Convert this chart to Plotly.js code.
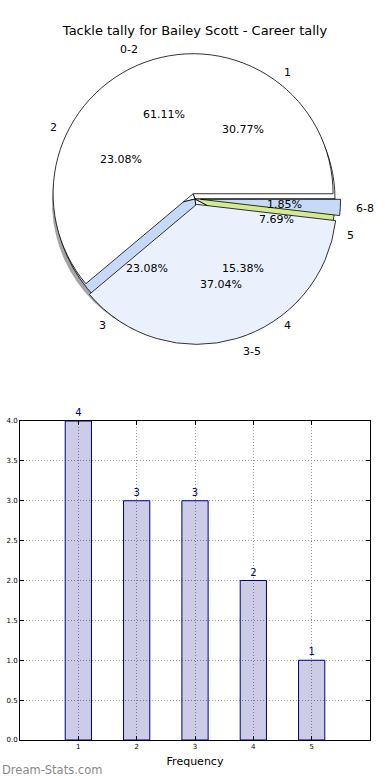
<!DOCTYPE html>
<html><head><meta charset="utf-8">
<script src="https://cdn.plot.ly/plotly-3.0.1.min.js"></script>
<style>html,body{margin:0;padding:0;background:#fff}#chart{width:390px;height:780px}</style>
</head><body><div id="chart"></div>
<script>
// ---- data ----
const chartTitle = 'Tackle tally for Bailey Scott - Career tally';
const groupLabels = ['0-2', '3-5', '6-8'];
const groupValues = [33, 20, 1];
const groupColors = ['#FFFFFF', '#EAF1FD', '#C6D9F7'];
const tallyLabels = ['1', '2', '3', '4', '5'];
const tallyValues = [4, 3, 3, 2, 1];
const tallyColors = ['#FFFFFF', '#FFFFFF', '#C6D9F7', '#EAF1FD', '#D3EA8F'];
const barX = [1, 2, 3, 4, 5];
const barY = [4, 3, 3, 2, 1];
const xTitle = 'Frequency';
const watermark = 'Dream-Stats.com';

// ---- geometry ----
const W = 390, H = 780;
const M = {l: 20, r: 20, t: 0, b: 40};
const PW = W - M.l - M.r, PH = H - M.t - M.b;
const cx = 195, cy = 199, R = 140, pull = 0.04;
const FONT = 'DejaVu Sans';

function px2paper(x, y) { return [(x - M.l) / PW, (M.t + PH - y) / PH]; }
function domainFor(x0, y0, r) {
  const [xc, yc] = px2paper(x0, y0);
  return {x: [xc - r / PW, xc + r / PW], y: [yc - r / PH, yc + r / PH]};
}
// Plotly's counterclockwise pies end the first slice at `rotation`;
// shift so the first slice starts at 3 o'clock and runs counterclockwise.
function rot(values) {
  const total = values.reduce((a, b) => a + b, 0);
  return 90 - 360 * values[0] / total;
}

const common = {
  type: 'pie', sort: false, direction: 'counterclockwise',
  textinfo: 'none', hoverinfo: 'skip', showlegend: false
};

const shadow = Object.assign({}, common, {
  values: tallyValues, labels: tallyLabels, rotation: rot(tallyValues),
  marker: {colors: tallyValues.map(() => 'rgba(90,90,90,0.55)'), line: {width: 0}},
  domain: domainFor(cx - 3, cy + 3, R)
});
const inner = Object.assign({}, common, {
  values: tallyValues, labels: tallyLabels, rotation: rot(tallyValues),
  marker: {colors: tallyColors, line: {color: '#000', width: 0.8}},
  domain: domainFor(cx, cy, R)
});
const outer = Object.assign({}, common, {
  values: groupValues, labels: groupLabels, rotation: rot(groupValues),
  pull: groupValues.map(() => pull),
  marker: {colors: groupColors, line: {color: '#000', width: 0.8}},
  domain: domainFor(cx, cy, R * (1 + pull))
});

const annotations = [];
function addPieText(values, labels, expl) {
  const total = values.reduce((a, b) => a + b, 0);
  let cum = 0;
  values.forEach((v, i) => {
    const th = (cum + v / 2) / total * 2 * Math.PI;
    cum += v;
    const c = Math.cos(th), s = Math.sin(th);
    const ox = cx + expl * R * c, oy = cy - expl * R * s;
    const [lx, ly] = px2paper(ox + 1.1 * R * c, oy - 1.1 * R * s);
    annotations.push({xref: 'paper', yref: 'paper', x: lx, y: ly, text: labels[i],
      showarrow: false, xanchor: c > 0 ? 'left' : 'right', yanchor: 'middle',
      font: {family: FONT, size: 11, color: '#000'}});
    const [tx, ty] = px2paper(ox + 0.6 * R * c, oy - 0.6 * R * s);
    annotations.push({xref: 'paper', yref: 'paper', x: tx, y: ty,
      text: (v / total * 100).toFixed(2) + '%',
      showarrow: false, xanchor: 'center', yanchor: 'middle',
      font: {family: FONT, size: 11, color: '#000'}});
  });
}
addPieText(tallyValues, tallyLabels, 0);
addPieText(groupValues, groupLabels, pull);

const wm = px2paper(0, 770);
annotations.push({xref: 'paper', yref: 'paper', x: wm[0], y: wm[1], text: watermark,
  showarrow: false, xanchor: 'left', yanchor: 'middle',
  font: {family: FONT, size: 11.5, color: '#8a8a8a'}});

const bars = {
  type: 'bar', x: barX, y: barY, width: 0.45,
  marker: {color: 'rgba(0,0,128,0.2)', line: {color: '#000080', width: 1}},
  text: barY.map(String), textposition: 'outside', cliponaxis: false,
  textfont: {family: FONT, size: 10, color: '#000080'},
  hoverinfo: 'skip', showlegend: false, xaxis: 'x', yaxis: 'y'
};

const [, barTop] = px2paper(0, 421);
const gridDash = '1px,2px';

const layout = {
  width: W, height: H, margin: M, paper_bgcolor: '#fff', plot_bgcolor: '#fff',
  font: {family: FONT, color: '#000'},
  title: {text: chartTitle, x: 0.5, xanchor: 'center', y: 1 - 30 / H, yanchor: 'middle',
    font: {family: FONT, size: 13, color: '#000'}},
  xaxis: {domain: [0, 1], range: [0, 6], tickvals: barX, ticktext: barX.map(String),
    ticks: 'inside', ticklen: 4, tickcolor: '#000', showline: true, mirror: 'ticks',
    linecolor: '#000', linewidth: 1, showgrid: true, gridcolor: '#999', griddash: gridDash,
    zeroline: false, tickfont: {family: FONT, size: 7, color: '#000'},
    title: {text: xTitle, standoff: 6, font: {family: FONT, size: 11, color: '#000'}}, fixedrange: true},
  yaxis: {domain: [0, barTop], range: [0, 4], dtick: 0.5, tickformat: '.1f',
    ticks: 'inside', ticklen: 4, tickcolor: '#000', showline: true, mirror: 'ticks',
    linecolor: '#000', linewidth: 1, showgrid: true, gridcolor: '#999', griddash: gridDash,
    zeroline: false, tickfont: {family: FONT, size: 7, color: '#000'}, fixedrange: true},
  annotations: annotations
};

Plotly.newPlot('chart', [shadow, inner, outer, bars], layout, {staticPlot: true, displayModeBar: false});
</script></body></html>
